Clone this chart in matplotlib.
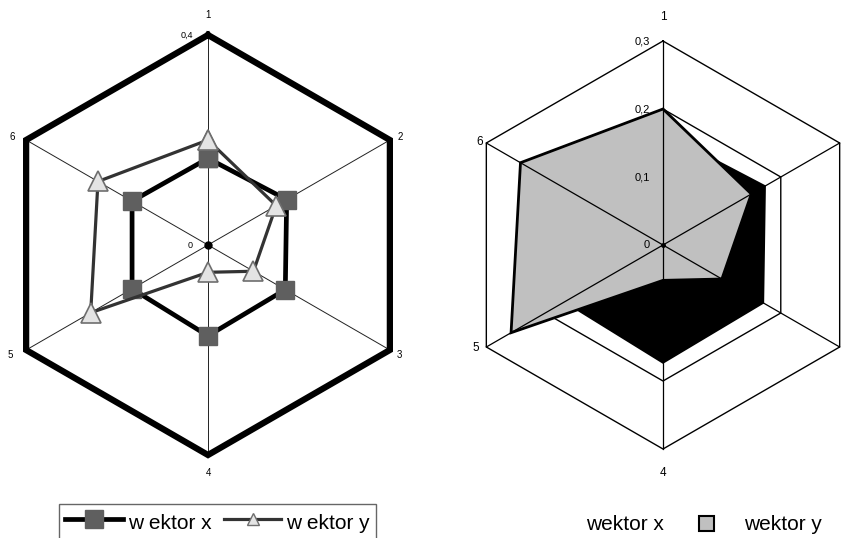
import numpy as np
import matplotlib
matplotlib.use('Agg')
import matplotlib.pyplot as plt
from matplotlib.lines import Line2D
from matplotlib.patches import Patch

plt.rcParams['font.family'] = ['Liberation Sans', 'DejaVu Sans']

# data
axis_names = ['1', '2', '3', '4', '5', '6']
wektor_x = [0.165, 0.173, 0.170, 0.173, 0.167, 0.167]
wektor_y = [0.200, 0.150, 0.100, 0.052, 0.258, 0.242]

left_ticks = [0.0, 0.4]
left_tick_labels = ['0', '0,4']
right_ticks = [0.0, 0.1, 0.2, 0.3]
right_tick_labels = ['0', '0,1', '0,2', '0,3']
right_rings = [0.2, 0.3]

W, H = 848, 538
theta = np.linspace(0, 2 * np.pi, len(axis_names), endpoint=False)
th_c = np.append(theta, theta[0])

# category label offsets from the outer vertex, in pixels (None = falls off the page)
left_name_off = [(0, 20), (10, 3), (10, -5), (0, -18), (-16, -5), (-14, 3)]
right_name_off = [(0, 24), None, None, (0, -24), (-11, -1), (-7, 1)]


def closed(v):
	return np.append(v, v[0])


def make_axes(fig, cx, cy, rad):
	# cx, cy, rad in pixels (y from top)
	ax = fig.add_axes([(cx - rad) / W, (H - cy - rad) / H, 2 * rad / W, 2 * rad / H], projection='polar')
	ax.set_theta_zero_location('N')
	ax.set_theta_direction(-1)
	ax.grid(False)
	ax.set_xticks([])
	ax.set_yticks([])
	ax.spines['polar'].set_visible(False)
	ax.patch.set_visible(False)
	return ax


def name_labels(ax, rmax, offsets, fs):
	for t, name, off in zip(theta, axis_names, offsets):
		if off is None:
			continue
		ax.annotate(name, xy=(t, rmax), xytext=off, textcoords='offset pixels',
					ha='center', va='center', fontsize=fs, annotation_clip=False)


fig = plt.figure(figsize=(W / 100, H / 100), dpi=100)

#--------------------------------------------------------------------------------#
# left chart: lines with markers
axl = make_axes(fig, 208, 245, 210)
rmax = left_ticks[-1]
axl.set_ylim(0, rmax)
for t in theta:
	axl.plot([t, t], [0, rmax], color='#222222', lw=0.7, clip_on=False, zorder=1)
axl.plot(th_c, [rmax] * len(th_c), color='black', lw=4.5, solid_joinstyle='miter', clip_on=False, zorder=2)
axl.plot([0], [0], 'o', color='black', ms=5, zorder=3, clip_on=False)
axl.plot(th_c, closed(wektor_x), color='black', lw=3.4, marker='s', ms=13,
		 mfc='#5f5f5f', mec='#5f5f5f', solid_joinstyle='miter', clip_on=False, zorder=4)
axl.plot(th_c, closed(wektor_y), color='#333333', lw=2.3, marker='^', ms=14,
		 mfc='#e4e4e4', mec='#6e6e6e', mew=1.2, clip_on=False, zorder=5)
name_labels(axl, rmax, left_name_off, 7)
for v, s in zip(left_ticks, left_tick_labels):
	axl.annotate(s, xy=(0, v), xytext=(-15, 0), textcoords='offset pixels',
				 ha='right', va='center', fontsize=6.5)

#--------------------------------------------------------------------------------#
# right chart: filled radar
axr = make_axes(fig, 663, 245, 204)
rmax = right_ticks[-1]
axr.set_ylim(0, rmax)
for r in right_rings:
	axr.plot(th_c, [r] * len(th_c), color='black', lw=1.0, clip_on=False, zorder=1)
axr.fill(th_c, closed(wektor_x), facecolor='black', edgecolor='black', lw=1.5, zorder=2)
axr.fill(th_c, closed(wektor_y), facecolor='#c0c0c0', edgecolor='black', lw=2.0, zorder=3)
for t in theta:
	axr.plot([t, t], [0, rmax], color='black', lw=0.9, clip_on=False, zorder=4)
axr.plot([0], [0], 'o', color='black', ms=2.5, zorder=5)
name_labels(axr, rmax, right_name_off, 8.5)
for v, s in zip(right_ticks, right_tick_labels):
	axr.annotate(s, xy=(0, v), xytext=(-13, 0), textcoords='offset pixels',
				 ha='right', va='center', fontsize=8)

#--------------------------------------------------------------------------------#
# legends
h_x = Line2D([], [], color='black', lw=3.4, marker='s', ms=13, mfc='#5f5f5f', mec='#5f5f5f')
h_y = Line2D([], [], color='#333333', lw=2.3, marker='^', ms=9, mfc='#e4e4e4', mec='#6e6e6e')
leg = fig.legend([h_x, h_y], ['w ektor x', 'w ektor y'], loc='upper left',
				 bbox_to_anchor=(59 / W, 1 - 504 / H), ncol=2, fontsize=15,
				 frameon=True, fancybox=False, edgecolor='#404040',
				 handlelength=2.75, handleheight=1.3, handletextpad=0.25, columnspacing=0.6,
				 borderpad=0.3, borderaxespad=0)
leg.get_frame().set_linewidth(1.0)

p_x = Patch(facecolor='none', edgecolor='none')
p_y = Patch(facecolor='#c0c0c0', edgecolor='black', lw=1.5)
fig.legend([p_x, p_y], ['wektor x', 'wektor y'], loc='center left',
		   bbox_to_anchor=(541 / W, 1 - 525 / H), ncol=2, fontsize=15,
		   frameon=False, handlelength=0.7, handleheight=0.7,
		   handletextpad=1.45, columnspacing=1.7, borderpad=0, borderaxespad=0)

fig.savefig('out.png', dpi=100)
